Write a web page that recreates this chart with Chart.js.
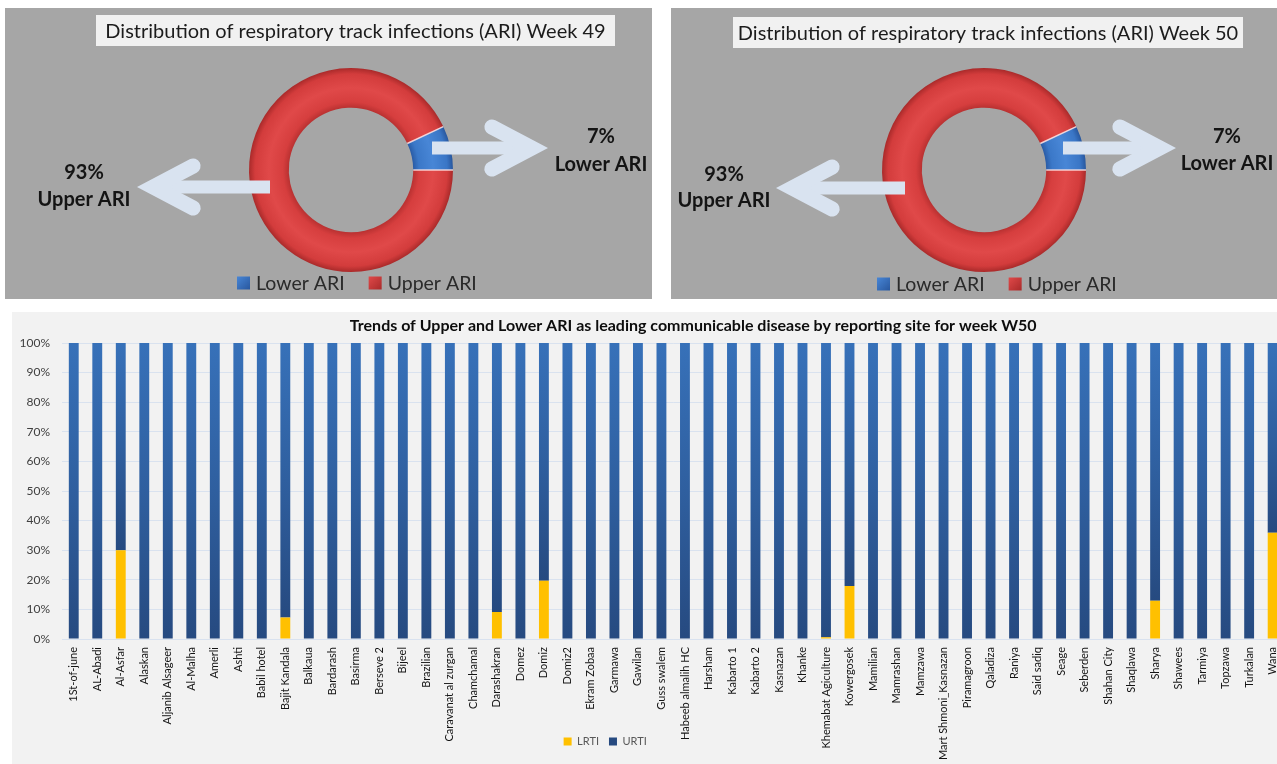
<!DOCTYPE html>
<html>
<head>
<meta charset="utf-8">
<script src="https://cdn.jsdelivr.net/npm/chart.js@4.4.1/dist/chart.umd.min.js"></script>
<style>
  html, body { margin: 0; padding: 0; background: #ffffff; width: 1277px; height: 764px; overflow: hidden; }
  .panel { position: absolute; overflow: hidden; }
  #p1 { left: 5px; top: 8px; width: 647px; height: 291px; background: #a6a6a6; }
  #p2 { left: 671px; top: 8px; width: 606px; height: 291px; background: #a6a6a6; }
  #p3 { left: 12px; top: 312px; width: 1282px; height: 498px; background: #f2f2f2; }
  canvas { display: block; }
</style>
</head>
<body>
<div class="panel" id="p1"><canvas id="c1"></canvas></div>
<div class="panel" id="p2"><canvas id="c2"></canvas></div>
<div class="panel" id="p3"><canvas id="c3"></canvas></div>
<script>
// ---------------- DATA ----------------
const ariLabels = ['Lower ARI', 'Upper ARI'];
const week49Share = [7, 93];
const week50Share = [7, 93];
const donutTitles = [
  'Distribution of respiratory track infections (ARI) Week 49',
  'Distribution of respiratory track infections (ARI) Week 50'
];

const sites = [
  '1St-of-june', 'AL-Abadi', 'Al-Asfar', 'Alaskan', 'Aljanib Alsageer', 'Al-Malha', 'Amerli', 'Ashti',
  'Babil hotel', 'Bajit Kandala', 'Balkaua', 'Bardarash', 'Basirma', 'Berseve 2', 'Bijeel', 'Brazilian',
  'Caravanat al zurgan', 'Chamchamal', 'Darashakran', 'Domez', 'Domiz', 'Domiz2', 'Ekram Zobaa', 'Garmawa',
  'Gawilan', 'Guss swalem', 'Habeeb almalih HC', 'Harsham', 'Kabarto 1', 'Kabarto 2', 'Kasnazan', 'Khanke',
  'Khemabat Agiculture', 'Kowergosek', 'Mamilian', 'Mamrashan', 'Mamzawa', 'Mart Shmoni_Kasnazan', 'Piramagroon', 'Qaladiza',
  'Raniya', 'Said sadiq', 'Seage', 'Seberden', 'Shahan City', 'Shaqlawa', 'Sharya', 'Shawees',
  'Tarmiya', 'Topzawa', 'Turkalan', 'Wana'
];
const lrtiShare = [
  0, 0, 30, 0, 0, 0, 0, 0,
  0, 7.3, 0, 0, 0, 0, 0, 0,
  0, 0, 9.1, 0, 19.7, 0, 0, 0,
  0, 0, 0, 0, 0, 0, 0, 0,
  0.6, 17.9, 0, 0, 0, 0, 0, 0,
  0, 0, 0, 0, 0, 0, 12.9, 0,
  0, 0, 0, 35.9
];
const urtiShare = [
  100, 100, 70, 100, 100, 100, 100, 100,
  100, 92.7, 100, 100, 100, 100, 100, 100,
  100, 100, 90.9, 100, 80.3, 100, 100, 100,
  100, 100, 100, 100, 100, 100, 100, 100,
  99.4, 82.1, 100, 100, 100, 100, 100, 100,
  100, 100, 100, 100, 100, 100, 87.1, 100,
  100, 100, 100, 64.1
];
const seriesNames = ['LRTI', 'URTI'];
const yTickLabels = ['0%', '10%', '20%', '30%', '40%', '50%', '60%', '70%', '80%', '90%', '100%'];
const barTitle = 'Trends of Upper and Lower ARI as leading communicable disease by reporting site for week W50';

// ---------------- STYLE ----------------
const FONT = 'Lato, "Open Sans", "Liberation Sans", sans-serif';
const CUTOUT = 0.61;
const donutSolid = ['#3b76c6', '#d63c3c'];
const donutShades = [
  ['#2a5ca6', '#3b78c8', '#4886d6', '#3a76c6', '#28579e'],
  ['#b93131', '#d63e3e', '#e04949', '#d33c3c', '#a92a2a']
];
const arrowColor = '#d9e3f0';

function drawArrow(ctx, a) {
  const dir = Math.sign(a.tip - a.tail);
  const armDx = 40, armDy = 21, armW = 15;
  const ext = (armW / 2) / Math.sin(Math.atan2(armDy, armDx));
  const v = a.tip - dir * ext;
  ctx.save();
  ctx.strokeStyle = arrowColor;
  ctx.lineWidth = 13;
  ctx.lineCap = 'butt';
  ctx.beginPath(); ctx.moveTo(a.tail, a.y); ctx.lineTo(v, a.y); ctx.stroke();
  ctx.lineWidth = armW;
  ctx.lineCap = 'round';
  ctx.lineJoin = 'miter';
  ctx.miterLimit = 10;
  ctx.beginPath();
  ctx.moveTo(v - dir * armDx, a.y - armDy);
  ctx.lineTo(v, a.y);
  ctx.lineTo(v - dir * armDx, a.y + armDy);
  ctx.stroke();
  ctx.restore();
}

const donutDecor = {
  id: 'donutDecor',
  beforeDatasetsDraw(chart, args, o) {
    const ctx = chart.ctx;
    const b = o.titleBox;
    ctx.save();
    ctx.fillStyle = '#f1f1f1';
    ctx.fillRect(b.x, b.y, b.w, b.h);
    ctx.fillStyle = '#1c1c1c';
    ctx.font = '20px ' + FONT;
    ctx.textAlign = 'center';
    ctx.textBaseline = 'middle';
    ctx.fillText(o.title, b.x + b.w / 2, b.y + b.h / 2 + 1);
    ctx.restore();
  },
  afterDatasetsDraw(chart, args, o) {
    const ctx = chart.ctx;
    const meta = chart.getDatasetMeta(0);
    ctx.save();
    ctx.strokeStyle = 'rgba(255,230,230,0.85)';
    ctx.lineWidth = 1.5;
    meta.data.forEach(arc => {
      const p = arc.getProps(['x', 'y', 'startAngle', 'innerRadius', 'outerRadius'], true);
      ctx.beginPath();
      ctx.moveTo(p.x + Math.cos(p.startAngle) * p.innerRadius, p.y + Math.sin(p.startAngle) * p.innerRadius);
      ctx.lineTo(p.x + Math.cos(p.startAngle) * p.outerRadius, p.y + Math.sin(p.startAngle) * p.outerRadius);
      ctx.stroke();
    });
    ctx.restore();
    o.arrows.forEach(a => drawArrow(ctx, a));
    const values = chart.data.datasets[0].data;
    ctx.save();
    ctx.fillStyle = '#141414';
    ctx.font = 'bold 20px ' + FONT;
    ctx.textAlign = 'center';
    ctx.textBaseline = 'middle';
    o.callouts.forEach(c => {
      ctx.fillText(values[c.index] + '%', c.x, c.y);
      ctx.fillText(chart.data.labels[c.index], c.x, c.y2);
    });
    ctx.restore();
    const L = o.legend;
    ctx.save();
    ctx.font = '19.5px ' + FONT;
    ctx.textBaseline = 'middle';
    ctx.textAlign = 'left';
    let x = L.x;
    chart.data.labels.forEach((lab, i) => {
      const s = 13;
      const g = ctx.createLinearGradient(x, L.y - s / 2, x + s, L.y + s / 2);
      g.addColorStop(0, donutShades[i][2]);
      g.addColorStop(1, donutShades[i][4]);
      ctx.fillStyle = g;
      ctx.fillRect(x, L.y - s / 2, s, s);
      ctx.fillStyle = '#2a2a2a';
      ctx.fillText(lab, x + s + 6, L.y + 1);
      x += s + 6 + ctx.measureText(lab).width + 24;
    });
    ctx.restore();
  }
};

function sliceFill(context) {
  const chart = context.chart;
  const area = chart.chartArea;
  const i = context.dataIndex;
  if (!area || context.type !== 'data') return donutSolid[i] || donutSolid[0];
  const cx = (area.left + area.right) / 2;
  const cy = (area.top + area.bottom) / 2;
  const r = Math.min(area.right - area.left, area.bottom - area.top) / 2;
  const ri = r * CUTOUT;
  const g = chart.ctx.createRadialGradient(cx, cy, ri, cx, cy, r);
  const sh = donutShades[i];
  g.addColorStop(0, sh[0]);
  g.addColorStop(0.15, sh[1]);
  g.addColorStop(0.5, sh[2]);
  g.addColorStop(0.85, sh[3]);
  g.addColorStop(1, sh[4]);
  return g;
}

function makeDonut(id, shares, title, geom) {
  const total = shares.reduce((a, b) => a + b, 0);
  return new Chart(document.getElementById(id), {
    type: 'doughnut',
    data: {
      labels: ariLabels,
      datasets: [{ data: shares, backgroundColor: sliceFill, borderWidth: 0, hoverOffset: 0 }]
    },
    options: {
      responsive: true,
      maintainAspectRatio: false,
      animation: false,
      cutout: (CUTOUT * 100) + '%',
      rotation: 90 - 360 * shares[0] / total,
      layout: { padding: geom.padding },
      events: [],
      plugins: {
        legend: { display: false },
        tooltip: { enabled: false },
        donutDecor: Object.assign({ title: title }, geom)
      }
    },
    plugins: [donutDecor]
  });
}

makeDonut('c1', week49Share, donutTitles[0], {
  padding: { left: 243, right: 198, top: 60, bottom: 27 },
  titleBox: { x: 91, y: 7, w: 519, h: 31 },
  arrows: [ { tail: 265, tip: 132, y: 179 }, { tail: 427, tip: 543, y: 140 } ],
  callouts: [ { index: 1, x: 79, y: 165, y2: 192 }, { index: 0, x: 596, y: 129, y2: 157 } ],
  legend: { x: 232, y: 275 }
});

makeDonut('c2', week50Share, donutTitles[1], {
  padding: { left: 210, right: 190, top: 60, bottom: 27 },
  titleBox: { x: 62, y: 9, w: 510, h: 31 },
  arrows: [ { tail: 234, tip: 105, y: 180 }, { tail: 392, tip: 505, y: 140 } ],
  callouts: [ { index: 1, x: 53, y: 167, y2: 193 }, { index: 0, x: 556, y: 129, y2: 156 } ],
  legend: { x: 206, y: 276 }
});

// ---------------- BAR CHART ----------------
function urtiFill(context) {
  const chart = context.chart;
  const area = chart.chartArea;
  if (!area || context.type !== 'data' || !chart.scales.y) return '#2e5d9e';
  const i = context.dataIndex;
  const base = chart.data.datasets[0].data[i];
  const topV = base + chart.data.datasets[1].data[i];
  const yTop = chart.scales.y.getPixelForValue(topV);
  const yBot = chart.scales.y.getPixelForValue(base);
  if (!isFinite(yTop) || !isFinite(yBot) || yBot - yTop < 1) return '#2e5d9e';
  const g = chart.ctx.createLinearGradient(0, yTop, 0, yBot);
  g.addColorStop(0, '#3771b9');
  g.addColorStop(0.5, '#2f5f9f');
  g.addColorStop(1, '#264a80');
  return g;
}

// moves the title and legend boxes after layout (legend sits inside the label band, as in the original)
const boxShift = {
  id: 'boxShift',
  afterLayout(chart, args, o) {
    const lg = chart.legend;
    if (lg) {
      const h = lg.bottom - lg.top;
      lg.left += o.legendDx; lg.right += o.legendDx;
      lg.top = chart.chartArea.bottom + o.legendGap; lg.bottom = lg.top + h;
    }
    if (chart.titleBlock) { chart.titleBlock.left += o.titleDx; chart.titleBlock.right += o.titleDx; }
  }
};

new Chart(document.getElementById('c3'), {
  type: 'bar',
  data: {
    labels: sites,
    datasets: [
      { label: seriesNames[0], data: lrtiShare, backgroundColor: '#ffc000', borderWidth: 0 },
      { label: seriesNames[1], data: urtiShare, backgroundColor: urtiFill, borderWidth: 0 }
    ]
  },
  options: {
    responsive: true,
    maintainAspectRatio: false,
    animation: false,
    events: [],
    layout: { padding: { left: 4, right: 9.6, top: 0, bottom: 0 } },
    datasets: { bar: { barPercentage: 0.42, categoryPercentage: 1 } },
    scales: {
      x: {
        stacked: true,
        grid: { display: false, drawTicks: false },
        border: { display: true, color: '#d9e2ef' },
        ticks: {
          autoSkip: false, maxRotation: 90, minRotation: 90, padding: 8,
          color: '#141414', font: { family: FONT, size: 11 }
        },
        afterFit(s) { s.height = 140; }
      },
      y: {
        stacked: true, min: 0, max: 100,
        grid: { color: '#d9e2ef', drawTicks: false },
        border: { display: false },
        ticks: {
          stepSize: 10, padding: 12, color: '#404040',
          font: { family: FONT, size: 12 },
          callback: (v) => yTickLabels[Math.round(v / 10)]
        },
        afterFit(s) { s.width = 46; }
      }
    },
    plugins: {
      title: {
        display: true, text: barTitle, color: '#0d0d0d',
        font: { family: FONT, size: 16, weight: 'bold' },
        padding: { top: 4, bottom: 7.8 }
      },
      legend: {
        position: 'bottom',
        labels: { boxWidth: 8, boxHeight: 8, padding: 10, color: '#595959', font: { family: FONT, size: 11 } }
      },
      tooltip: { enabled: false },
      boxShift: { legendDx: -45, titleDx: 43, legendGap: 87 }
    }
  },
  plugins: [boxShift]
});
</script>
</body>
</html>
